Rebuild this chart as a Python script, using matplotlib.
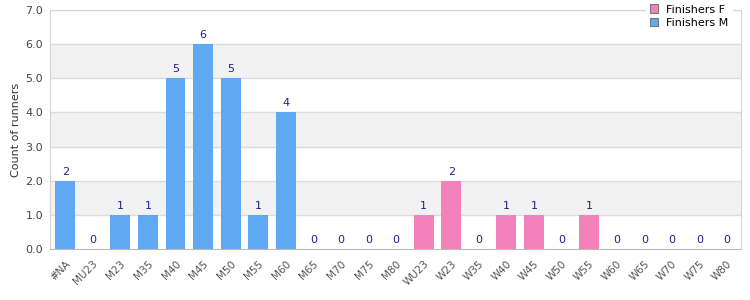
import numpy as np
import matplotlib.pyplot as plt

# categories and counts
catsM = ['#NA', 'MU23', 'M23', 'M35', 'M40', 'M45', 'M50', 'M55', 'M60',
         'M65', 'M70', 'M75', 'M80']
finishersM = [2, 0, 1, 1, 5, 6, 5, 1, 4, 0, 0, 0, 0]
catsF = ['WU23', 'W23', 'W35', 'W40', 'W45', 'W50', 'W55', 'W60', 'W65',
         'W70', 'W75', 'W80']
finishersF = [1, 2, 0, 1, 1, 0, 1, 0, 0, 0, 0, 0]

def main():
    cats = catsM + catsF
    fig = plt.figure(figsize=(7.5, 3.0), dpi=100)
    ax = fig.add_axes([0.0667, 0.17, 0.921, 0.797])

    xm = np.arange(len(catsM))
    xf = np.arange(len(catsM), len(cats))
    width = 0.72

    # alternating bands
    for lo in [1, 3, 5]:
        ax.axhspan(lo, lo + 1, color='#f2f2f2', zorder=0, lw=0)
    for y in range(1, 8):
        ax.axhline(y, color='#dcdcdc', lw=1, zorder=1)

    bm = ax.bar(xm, finishersM, width, color='#5fa8f2', zorder=2, label='Finishers M')
    bf = ax.bar(xf, finishersF, width, color='#f282b9', zorder=2, label='Finishers F')

    for bars, vals in [(bm, finishersM), (bf, finishersF)]:
        for b, v in zip(bars, vals):
            ax.text(b.get_x() + b.get_width() / 2, v + 0.12, str(v),
                    ha='center', va='bottom', fontsize=8, color='#1f1f8f')

    ax.set_xlim(-0.55, len(cats) - 0.5)
    ax.set_ylim(0, 7)
    ax.set_yticks(range(0, 8))
    ax.set_yticklabels(['%.1f' % v for v in range(0, 8)])
    ax.set_xticks(np.arange(len(cats)))
    ax.set_xticklabels(cats, rotation=45, ha='right', rotation_mode='anchor')
    ax.tick_params(axis='y', length=0, labelsize=8, colors='#444444', pad=5)
    ax.tick_params(axis='x', length=0, labelsize=7.5, colors='#555555', pad=7)
    ax.set_ylabel('Count of runners', fontsize=8, color='#333333', labelpad=3)

    for s in ax.spines.values():
        s.set_color('#d4d4d4')
    ax.spines['bottom'].set_color('#bbbbbb')

    handles = [bf, bm]
    leg = ax.legend(handles, ['Finishers F', 'Finishers M'], loc='upper right',
                    bbox_to_anchor=(0.995, 1.06), fontsize=8, frameon=True,
                    handlelength=0.8, handleheight=0.8, borderpad=0.3,
                    labelspacing=0.3, handletextpad=0.7)
    leg.get_frame().set_edgecolor('white')
    leg.get_frame().set_facecolor('white')
    leg.get_frame().set_alpha(1)
    for h in leg.legend_handles:
        h.set_edgecolor('#777777')
        h.set_linewidth(0.8)

    plt.savefig('out.png', dpi=100)

if __name__ == "__main__":
    main()
